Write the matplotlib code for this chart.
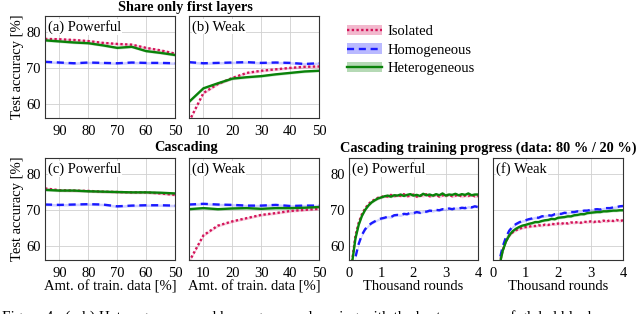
import numpy as np
import matplotlib
matplotlib.use('Agg')
import matplotlib.pyplot as plt
from matplotlib.patches import Patch
from matplotlib.legend_handler import HandlerTuple

plt.rcParams['font.family'] = ['Liberation Serif', 'DejaVu Serif']
plt.rcParams['font.size'] = 10

# share only first layers / cascading: amount of training data [%]
data_pow = [95, 90, 85, 80, 75, 70, 65, 60, 55, 50]
data_weak = [5, 10, 15, 20, 25, 30, 35, 40, 45, 50]

# (a) share only first layers, powerful
a_iso = [78.1, 78.0, 77.8, 77.5, 77.0, 76.7, 76.5, 75.6, 74.9, 74.0]
a_hom = [71.7, 71.5, 71.3, 71.5, 71.4, 71.3, 71.5, 71.4, 71.4, 71.3]
a_het = [77.7, 77.4, 77.1, 76.9, 76.3, 75.6, 75.9, 74.7, 74.2, 73.6]
# (b) share only first layers, weak
b_iso = [55.0, 63.0, 65.5, 67.2, 68.6, 69.2, 69.6, 70.0, 70.3, 70.4]
b_hom = [71.6, 71.3, 71.4, 71.5, 71.6, 71.4, 71.5, 71.4, 71.1, 71.3]
b_het = [60.5, 64.3, 65.7, 67.0, 67.4, 67.7, 68.2, 68.6, 69.0, 69.2]
# (c) cascading, powerful
c_iso = [76.0, 75.5, 75.4, 75.3, 75.1, 75.0, 74.9, 74.9, 74.6, 74.2]
c_hom = [71.5, 71.4, 71.5, 71.6, 71.5, 71.0, 71.2, 71.3, 71.3, 71.2]
c_het = [75.6, 75.4, 75.4, 75.2, 75.1, 75.0, 74.9, 74.9, 74.8, 74.6]
# (d) cascading, weak
d_iso = [55.5, 62.9, 65.6, 66.8, 67.7, 68.6, 69.1, 69.7, 70.0, 70.3]
d_hom = [71.5, 71.7, 71.5, 71.4, 71.2, 71.2, 71.4, 71.1, 71.2, 71.2]
d_het = [70.2, 70.5, 70.2, 70.4, 70.5, 70.3, 70.5, 70.5, 70.6, 70.8]

# cascading training progress, thousand rounds
rounds = np.arange(0, 4.05, 0.1)
e_iso = [45.0, 56.0, 62.8, 66.4, 68.8, 70.4, 71.6, 72.4, 72.9, 73.4, 73.6, 73.9, 73.7, 74.2,
         73.8, 74.1, 73.9, 74.4, 73.8, 74.0, 74.3, 73.7, 74.1, 73.9, 74.4, 73.8, 74.0, 74.2,
         73.7, 74.1, 73.9, 74.3, 73.8, 74.0, 74.2, 73.7, 74.0, 73.9, 74.2, 73.8, 73.9]
e_hom = [40.0, 50.0, 56.8, 60.5, 63.0, 64.6, 65.6, 66.3, 66.8, 67.3, 67.6, 67.8, 68.1, 68.0,
         68.5, 68.6, 68.5, 68.9, 68.8, 69.2, 69.1, 69.4, 69.2, 69.6, 69.5, 69.8, 69.7, 70.0,
         69.9, 70.2, 70.1, 70.4, 70.2, 70.5, 70.4, 70.6, 70.5, 70.9, 70.7, 71.0, 70.8]
e_het = [44.0, 55.5, 62.0, 65.8, 68.3, 70.0, 71.2, 72.1, 72.7, 73.2, 73.5, 73.8, 74.0, 73.7,
         74.1, 74.0, 74.3, 73.9, 74.2, 74.4, 74.0, 74.2, 73.9, 74.5, 74.1, 74.3, 74.0, 74.4,
         74.1, 74.6, 74.0, 74.3, 74.2, 74.5, 74.1, 74.4, 74.2, 74.6, 74.1, 74.3, 74.3]
f_iso = [38.0, 47.5, 55.0, 58.8, 61.3, 62.8, 63.7, 64.3, 64.7, 65.0, 65.2, 65.3, 65.5, 65.5,
         65.7, 65.6, 65.9, 65.8, 66.1, 66.0, 66.2, 66.1, 66.4, 66.2, 66.5, 66.4, 66.6, 66.4,
         66.7, 66.6, 66.8, 66.6, 66.9, 66.7, 67.0, 66.8, 67.1, 66.9, 67.2, 66.9, 67.1]
f_hom = [40.0, 49.0, 56.0, 59.8, 62.4, 64.2, 65.3, 66.0, 66.5, 66.9, 67.1, 67.4, 67.6, 67.9,
         67.8, 68.2, 68.3, 68.5, 68.4, 68.8, 68.9, 68.9, 69.2, 69.1, 69.4, 69.4, 69.6, 69.5,
         69.8, 69.8, 70.0, 70.1, 70.2, 70.1, 70.4, 70.5, 70.5, 70.7, 70.8, 71.0, 71.1]
f_het = [38.0, 47.0, 54.5, 58.6, 61.2, 62.9, 64.0, 64.7, 65.2, 65.6, 65.8, 66.1, 66.3, 66.6,
         66.6, 66.9, 67.1, 67.2, 67.5, 67.4, 67.8, 67.9, 68.0, 68.2, 68.2, 68.5, 68.6, 68.8,
         68.8, 69.1, 69.2, 69.3, 69.4, 69.4, 69.6, 69.6, 69.7, 69.8, 69.8, 69.9, 69.9]

labels = ['Isolated', 'Homogeneous', 'Heterogeneous']
spread = [0.35, 0.35, 0.35]

RED = '#d4145a'
BLUE = '#1a1aff'
GREEN = '#0a820a'
colors = [RED, BLUE, GREEN]
styles = [(0, (1, 1)), (0, (3, 2)), '-']

W, H = 640, 314
fig = plt.figure(figsize=(W / 100, H / 100), dpi=100)


def box(l, t, r, b):
    return [l / W, 1 - b / H, (r - l) / W, (b - t) / H]


def panel(rect, x, series, name, xlim, xticks, yticks_on, xlabel=None, ylabel=False):
    ax = fig.add_axes(box(*rect))
    for ys, c, ls, sp in zip(series, colors, styles, spread):
        ys = np.array(ys)
        ax.fill_between(x, ys - sp, ys + sp, color=c, alpha=0.2, lw=0)
        ax.plot(x, ys, color=c, linestyle=ls, lw=1.7)
    ax.set_xlim(*xlim)
    ax.set_ylim(56, 84.5)
    ax.set_xticks(xticks)
    ax.set_yticks([60, 70, 80])
    ax.grid(True, color='#d0d0d0', lw=0.6)
    ax.set_axisbelow(True)
    ax.tick_params(axis='x', length=0, pad=5, labelsize=10.5)
    ax.tick_params(axis='y', length=0, pad=3, labelsize=10.5)
    if not yticks_on:
        ax.set_yticklabels([])
    for s in ax.spines.values():
        s.set_linewidth(0.8)
        s.set_color('#333333')
    ax.text(0.025, 0.96, name, transform=ax.transAxes, va='top', ha='left', fontsize=10.5,
            bbox=dict(facecolor='white', edgecolor='none', pad=0.5))
    if xlabel:
        ax.set_xlabel(xlabel, fontsize=10.5, labelpad=0)
    if ylabel:
        ax.set_ylabel('Test accuracy [%]', fontsize=10.5, labelpad=2)
    return ax


pow_ticks = [90, 80, 70, 60, 50]
weak_ticks = [10, 20, 30, 40, 50]
panel((45, 16, 175, 118), data_pow, [a_iso, a_hom, a_het], '(a) Powerful', (95, 50), pow_ticks, True, ylabel=True)
panel((189, 16, 319, 118), data_weak, [b_iso, b_hom, b_het], '(b) Weak', (5, 50), weak_ticks, False)
panel((45, 158, 175, 260), data_pow, [c_iso, c_hom, c_het], '(c) Powerful', (95, 50), pow_ticks, True,
      xlabel='Amt. of train. data [%]', ylabel=True)
panel((189, 158, 319, 260), data_weak, [d_iso, d_hom, d_het], '(d) Weak', (5, 50), weak_ticks, False,
      xlabel='Amt. of train. data [%]')
panel((349, 158, 478, 260), rounds, [e_iso, e_hom, e_het], '(e) Powerful', (0, 4), [0, 1, 2, 3, 4], True,
      xlabel='Thousand rounds')
panel((493, 158, 623, 260), rounds, [f_iso, f_hom, f_het], '(f) Weak', (0, 4), [0, 1, 2, 3, 4], False,
      xlabel='Thousand rounds')

# group titles
fig.text(185 / W, 1 - 7 / H, 'Share only first layers', ha='center', va='center', fontsize=10.3, fontweight='bold')
fig.text(186 / W, 1 - 148 / H, 'Cascading', ha='center', va='center', fontsize=10.3, fontweight='bold')
fig.text(488 / W, 1 - 148 / H, 'Cascading training progress (data: 80 % / 20 %)', ha='center', va='center',
         fontsize=10.3, fontweight='bold')

# legend
handles = []
for c, ls in zip(colors, styles):
    h, = plt.plot([], [], color=c, linestyle=ls, lw=1.7)
    handles.append(h)
leg_handles = [(Patch(facecolor=c, alpha=0.3, lw=0), h) for c, h in zip(colors, handles)]
fig.legend(leg_handles, labels, handler_map={tuple: HandlerTuple(ndivide=1)},
           loc='upper left', bbox_to_anchor=(334 / W, 1 - 12 / H), frameon=False, fontsize=10.5,
           handlelength=2.4, handletextpad=0.4, labelspacing=0.35)

fig.text(2 / W, 1 - 310 / H, 'Figure 4:  (a-b) Heterogeneous and homogeneous learning with the best accuracy of global blocks',
         ha='left', va='top', fontsize=11)

fig.savefig('out.png', dpi=100)
